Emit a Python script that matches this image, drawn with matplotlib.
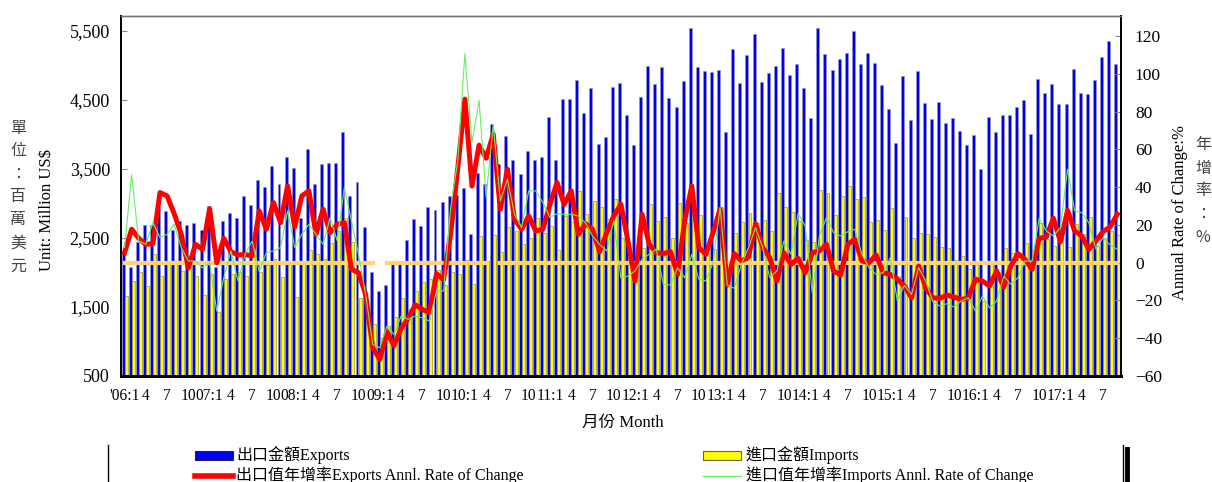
import matplotlib

matplotlib.use("Agg")

import matplotlib.pyplot as plt
import numpy as np
from matplotlib.lines import Line2D
from matplotlib.patches import Rectangle
from matplotlib.ticker import FuncFormatter

plt.rcParams["font.family"] = ["Liberation Serif", "Noto Sans CJK TC"]

# monthly data, 2006:01 .. 2017:09
START_YEAR = 2006
EXPORTS = [
    2300, 2085, 2445, 2690, 2690, 2950, 2895, 2620, 2750, 2685, 2720, 2610,
    2960, 2080, 2750, 2865, 2795, 3110, 2980, 3345, 3240, 3540, 3285, 3675,
    3515, 2790, 3790, 3285, 3575, 3585, 3580, 4040, 3110, 3310, 2655, 2000,
    1725, 1825, 2140, 2120, 2475, 2780, 2670, 2955, 2910, 3020, 3110, 3120,
    3230, 2565, 3445, 3280, 4155, 3565, 3980, 3635, 3425, 3765, 3625, 3680,
    4260, 3635, 4520, 4520, 4785, 4305, 4670, 3855, 3960, 4685, 4740, 4278,
    3848, 4548, 4988, 4737, 4973, 4534, 4394, 4771, 5548, 4983, 4925, 4906,
    4935, 4031, 5234, 4742, 5147, 5452, 4756, 4896, 4998, 5249, 4857, 5017,
    4669, 4239, 5543, 5167, 4930, 5089, 5186, 5495, 5017, 5176, 5031, 4713,
    4374, 3872, 4853, 4215, 4920, 4461, 4220, 4476, 4162, 4244, 4056, 3853,
    3993, 3495, 4249, 4031, 4278, 4278, 4403, 4495, 4007, 4800, 4601, 4737,
    4447, 4447, 4949, 4597, 4582, 4790, 5118, 5360, 5017,
]
IMPORTS = [
    1660, 1875, 2000, 1805, 2275, 1950, 2155, 2145, 2020, 2145, 1950, 1675,
    1975, 1430, 1910, 1975, 2000, 1950, 2275, 2000, 2105, 2200, 1935, 2165,
    1650, 2145, 2320, 2265, 2190, 2430, 2600, 2795, 2445, 1635, 1315, 1250,
    1045, 1220, 1360, 1635, 1475, 1725, 1855, 1910, 2040, 1825, 2010, 1985,
    2180, 1840, 2535, 2165, 2550, 2300, 2665, 2605, 2420, 2505, 2790, 2575,
    2680, 2320, 2825, 2735, 3185, 2845, 3035, 2950, 2770, 3070, 2505, 2340,
    2280, 2360, 2990, 2750, 2810, 2505, 3000, 2710, 2850, 2840, 2280, 2335,
    2950, 2100, 2575, 2735, 2855, 2720, 2765, 2605, 3145, 2950, 2870, 2750,
    2470, 2445, 3200, 3145, 2840, 3115, 3255, 3070, 3095, 2735, 2765, 2620,
    2935, 1950, 2810, 2505, 2575, 2560, 2515, 2370, 2355, 2185, 2240, 2050,
    2150, 1590, 2130, 2000, 2355, 2285, 2280, 2430, 2330, 2720, 2490, 2390,
    2610, 2370, 2705, 2565, 2805, 2385, 2495, 2605, 2545,
]
EXPORT_GROWTH = [
    5.3, 17.7, 12.9, 9.7, 10.1, 37.1, 35.3, 26.0, 15.0, -2.7, 9.7, 7.1,
    28.6, 0.0, 12.9, 5.8, 4.1, 4.4, 3.5, 27.4, 17.7, 31.8, 21.2, 40.6,
    18.9, 35.3, 38.0, 15.0, 28.3, 15.9, 20.3, 21.2, -3.5, -5.3, -16.8, -45.0,
    -51.2, -36.5, -44.0, -34.8, -29.5, -22.3, -24.7, -26.6, -5.9, -9.0, 15.6, 50.0,
    86.6, 40.6, 62.2, 55.3, 68.0, 28.3, 49.5, 23.0, 17.7, 24.7, 16.8, 17.7,
    30.9, 42.4, 30.9, 38.0, 15.0, 20.7, 17.7, 5.8, 15.9, 24.7, 30.9, 11.5,
    -9.7, 25.6, 9.7, 5.3, 4.8, 5.8, -6.2, 22.1, 40.6, 8.0, 4.4, 15.9,
    28.3, -11.8, 4.8, 0.9, 3.0, 20.7, 8.0, 2.7, -9.7, 5.3, -0.9, 2.3,
    -5.3, 5.3, 6.2, 9.7, -4.4, -6.5, 9.7, 12.4, 0.9, 0.0, 4.1, -5.3,
    -6.2, -8.8, -12.4, -18.6, -1.8, -13.3, -18.6, -18.9, -17.1, -18.2, -19.4, -18.9,
    -8.8, -9.7, -12.4, -4.4, -12.9, -1.8, 4.8, 1.8, -3.5, 12.9, 13.6, 23.5,
    11.1, 27.7, 16.8, 14.1, 7.1, 11.5, 16.4, 18.9, 25.6,
]
IMPORT_GROWTH = [
    8.0, 46.5, 11.5, 9.7, 21.2, 13.3, 15.0, 20.3, 8.0, 0.9, 0.9, -2.7,
    0.0, -25.6, -8.0, 6.2, -9.7, 4.4, 11.5, -4.8, 5.3, 6.2, 8.0, 27.4,
    8.0, 15.0, 20.3, 15.0, 9.7, 23.9, 11.5, 39.8, 22.1, 4.4, -16.8, -43.3,
    -45.1, -33.6, -38.0, -28.3, -30.0, -28.3, -29.2, -30.9, -15.0, -15.0, 29.2, 53.9,
    110.8, 63.6, 86.0, 34.5, 73.3, 32.7, 44.2, 25.6, 18.6, 38.0, 38.0, 31.8,
    23.9, 26.0, 25.6, 25.6, 24.7, 21.2, 14.1, 9.7, 6.2, 22.1, -8.0, -7.1,
    -4.4, 1.8, 4.4, 7.1, -11.5, -11.8, -2.7, -8.0, 4.4, -8.8, -9.7, 0.0,
    29.2, -11.8, -13.6, -0.9, 8.0, 18.6, 8.0, -8.0, -4.4, 11.5, 4.4, 26.1,
    19.4, -15.9, 14.1, 23.9, 15.9, 14.1, 16.4, 17.7, 4.4, -2.7, -6.2, -5.3,
    2.7, -20.3, -12.0, -16.8, -2.7, -9.7, -20.7, -23.0, -21.7, -23.5, -20.3, -18.6,
    -25.6, -17.7, -23.9, -20.3, -7.1, -11.5, -8.0, 0.9, 0.9, 23.5, 16.8, 14.1,
    18.6, 49.5, 27.4, 26.5, 21.2, 7.1, 13.3, 9.4, 7.1,
]
# months where the zero reference line is missing
ZERO_GAPS = [36, 52]

LEFT_TICKS = [500, 1500, 2500, 3500, 4500, 5500]
RIGHT_TICKS = [-60, -40, -20, 0, 20, 40, 60, 80, 100, 120]

W, H = 1212, 482


def month_labels(n):
    pos, labels = [], []
    for i in range(0, n, 3):
        year = START_YEAR + i // 12
        month = i % 12 + 1
        if month == 1:
            lab = f"{year % 100:02d}:1"
            if i == 0:
                lab = "'" + lab
        else:
            lab = str(month)
        pos.append(i)
        labels.append(lab)
    return pos, labels


fig = plt.figure(figsize=(W / 100, H / 100), dpi=100)
ax = fig.add_axes([121 / W, 1 - 376 / H, 1000 / W, 360 / H])
x = np.arange(len(EXPORTS))

ax.bar(x - 0.215, EXPORTS, width=0.42, color="#0000EE", edgecolor="#9a9ab0", linewidth=0.4, zorder=2)
ax.bar(x + 0.215, IMPORTS, width=0.42, color="#FFFF00", edgecolor="#7a7a3a", linewidth=0.4, zorder=2)
ax.set_xlim(-0.5, len(EXPORTS) - 0.46)
ax.set_ylim(500, 5717)
ax.set_yticks(LEFT_TICKS)
ax.yaxis.set_major_formatter(FuncFormatter(lambda v, p: f"{int(v):,}"))

pos, labels = month_labels(len(EXPORTS))
ax.set_xticks(pos)
ax.set_xticklabels(labels)
ax.tick_params(axis="x", length=0, pad=9, labelsize=11.2)
ax.tick_params(axis="y", direction="in", length=4, color="#888888", pad=8, labelsize=13)

ax2 = ax.twinx()
ax2.set_ylim(-60, 130.6)
ax2.set_yticks(RIGHT_TICKS)
ax2.tick_params(axis="y", direction="in", length=4, color="#888888", pad=10, labelsize=12.5)

zero = np.zeros(len(EXPORTS))
zero[ZERO_GAPS] = np.nan
ax2.plot(x, zero, color="#FFD470", linewidth=3, zorder=3)
ax2.plot(x, EXPORT_GROWTH, color="#FF0000", linewidth=3.6, solid_joinstyle="round", zorder=4)
ax2.plot(x, IMPORT_GROWTH, color="#66EE66", linewidth=0.8, zorder=5)

for a in (ax, ax2):
    a.spines["top"].set_color("#777777")
    a.spines["top"].set_linewidth(1.0)
    a.spines["bottom"].set_color("black")
    a.spines["bottom"].set_linewidth(2.0)
    a.spines["left"].set_color("black")
    a.spines["left"].set_linewidth(1.3)
    a.spines["right"].set_color("black")
    a.spines["right"].set_linewidth(1.3)

# axis titles
fig.text(47 / W, 1 - 210 / H, "Unit: Million US$", rotation=90, ha="center", va="center", fontsize=12)
fig.text(1180 / W, 1 - 212 / H, "Annual Rate of Change:%", rotation=90, ha="center", va="center", fontsize=12)
for k, ch in enumerate("單位：百萬美元"):
    fig.text(18 / W, 1 - (128 + 23 * k) / H, ch, ha="center", va="center",
             fontsize=11.5, color="#444444", family=["Noto Sans CJK TC"])
for k, ch in enumerate("年增率：%"):
    fig.text(1203 / W, 1 - (145 + 23 * k) / H, ch, ha="center", va="center",
             fontsize=11.5, color="#444444", family=["Noto Sans CJK TC"])
fig.text(623 / W, 1 - 423 / H, "月份 Month", ha="center", va="center", fontsize=12)

# legend drawn in pixel coordinates
lg = fig.add_axes([0, 0, 1, 1], facecolor="none")
lg.set_xlim(0, W)
lg.set_ylim(H, 0)
lg.axis("off")
lg.add_line(Line2D([108, 108], [445, 482], color="black", linewidth=1))
lg.add_line(Line2D([1123, 1123], [445, 482], color="black", linewidth=1))
lg.add_line(Line2D([1127, 1127], [449, 482], color="black", linewidth=3.5))
lg.add_patch(Rectangle((195, 451), 38, 9, facecolor="#0000EE", edgecolor="#222266", linewidth=0.8))
lg.add_patch(Rectangle((703, 451), 38, 9, facecolor="#FFFF00", edgecolor="#666633", linewidth=0.8))
lg.add_line(Line2D([195, 233], [476, 476], color="#FF0000", linewidth=4))
lg.add_line(Line2D([703, 741], [476, 476], color="#66EE66", linewidth=1))
lg.text(236, 455, "出口金額Exports", ha="left", va="center", fontsize=11.5)
lg.text(746, 455, "進口金額Imports", ha="left", va="center", fontsize=11.5)
lg.text(236, 475, "出口值年增率Exports Annl. Rate of Change", ha="left", va="center", fontsize=11.5)
lg.text(746, 475, "進口值年增率Imports Annl. Rate of Change", ha="left", va="center", fontsize=11.5)

fig.savefig("out.png", dpi=100)
